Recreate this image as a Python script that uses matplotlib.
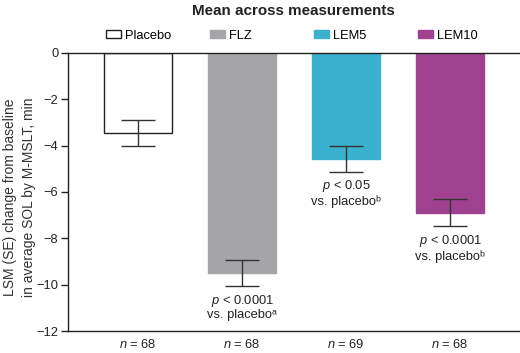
import matplotlib
matplotlib.use('Agg')
import matplotlib.pyplot as plt
import matplotlib.transforms as mtransforms
from matplotlib.legend import Legend
import numpy as np

plt.rcParams['font.family'] = ['Liberation Sans', 'DejaVu Sans']
plt.rcParams['mathtext.fontset'] = 'custom'
plt.rcParams['mathtext.rm'] = 'Liberation Sans'
plt.rcParams['mathtext.it'] = 'Liberation Sans:italic'

# data
groups = ['Placebo', 'FLZ', 'LEM5', 'LEM10']
lsm = [-3.45, -9.5, -4.57, -6.9]
se = [0.55, 0.55, 0.55, 0.58]
n_vals = [68, 68, 69, 68]
p_labels = [None,
            '$p$ < 0.0001\nvs. placebo\u1d43',
            '$p$ < 0.05\nvs. placebo\u1d47',
            '$p$ < 0.0001\nvs. placebo\u1d47']
colors = ['white', '#a6a6a9', '#39b1cf', '#a0418f']
edges = ['#222222', '#a6a6a9', '#39b1cf', '#a0418f']

fs = 9.3
fig = plt.figure(figsize=(5.2, 3.53), dpi=100)
ax = fig.add_axes([0.131, 0.0623, 0.869, 0.788])

x = np.arange(len(groups))
bw = 0.66
bars = ax.bar(x, lsm, width=bw, color=colors, edgecolor=edges, linewidth=1.0,
              zorder=2)
ax.errorbar(x, lsm, yerr=se, fmt='none', ecolor='#333333', elinewidth=1.0,
            capsize=12.5, capthick=1.0, zorder=3)

for xi, val, s, lab in zip(x, lsm, se, p_labels):
    if lab:
        ax.text(xi, val - s - 0.3, lab, ha='center', va='top', fontsize=fs,
                linespacing=1.05, color='#222222')

for xi, n in zip(x, n_vals):
    ax.text(xi, -12.3, f'$n$ = {n}', ha='center', va='top', fontsize=fs,
            color='#222222')

ax.set_xlim(-0.673, 3.673)
ax.set_ylim(-12, 0)
ax.set_yticks(np.arange(-12, 1, 2))
ax.set_yticklabels([f'\u2212{abs(v)}' if v < 0 else str(v) for v in range(-12, 1, 2)])
ax.set_xticks([])
for side in ['left', 'top', 'bottom']:
    ax.spines[side].set_linewidth(1.0)
    ax.spines[side].set_color('#222222')
ax.spines['right'].set_visible(False)
ax.tick_params(axis='y', direction='out', length=5, width=1.0, labelsize=fs,
               colors='#222222', pad=2)
ax.set_ylabel('LSM (SE) change from baseline\nin average SOL by M-MSLT, min',
              fontsize=10, color='#333333', linespacing=1.45)
ax.yaxis.set_label_coords(-0.071, 0.482)

# one legend entry above each bar
trans = mtransforms.blended_transform_factory(ax.transData, ax.transAxes)
for xi, b, g in zip(x, bars, groups):
    leg = Legend(ax, [b], [g], loc='lower left',
                 bbox_to_anchor=(xi - bw / 2 + 0.02, 1.04), bbox_transform=trans,
                 frameon=False, fontsize=fs, handlelength=1.15, handleheight=0.55,
                 handletextpad=0.35, borderaxespad=0, borderpad=0)
    ax.add_artist(leg)

fig.text(0.565, 0.97, 'Mean across measurements', ha='center', va='center',
         fontsize=10.9, fontweight='bold', color='#222222')

fig.savefig('out.png', dpi=100)
